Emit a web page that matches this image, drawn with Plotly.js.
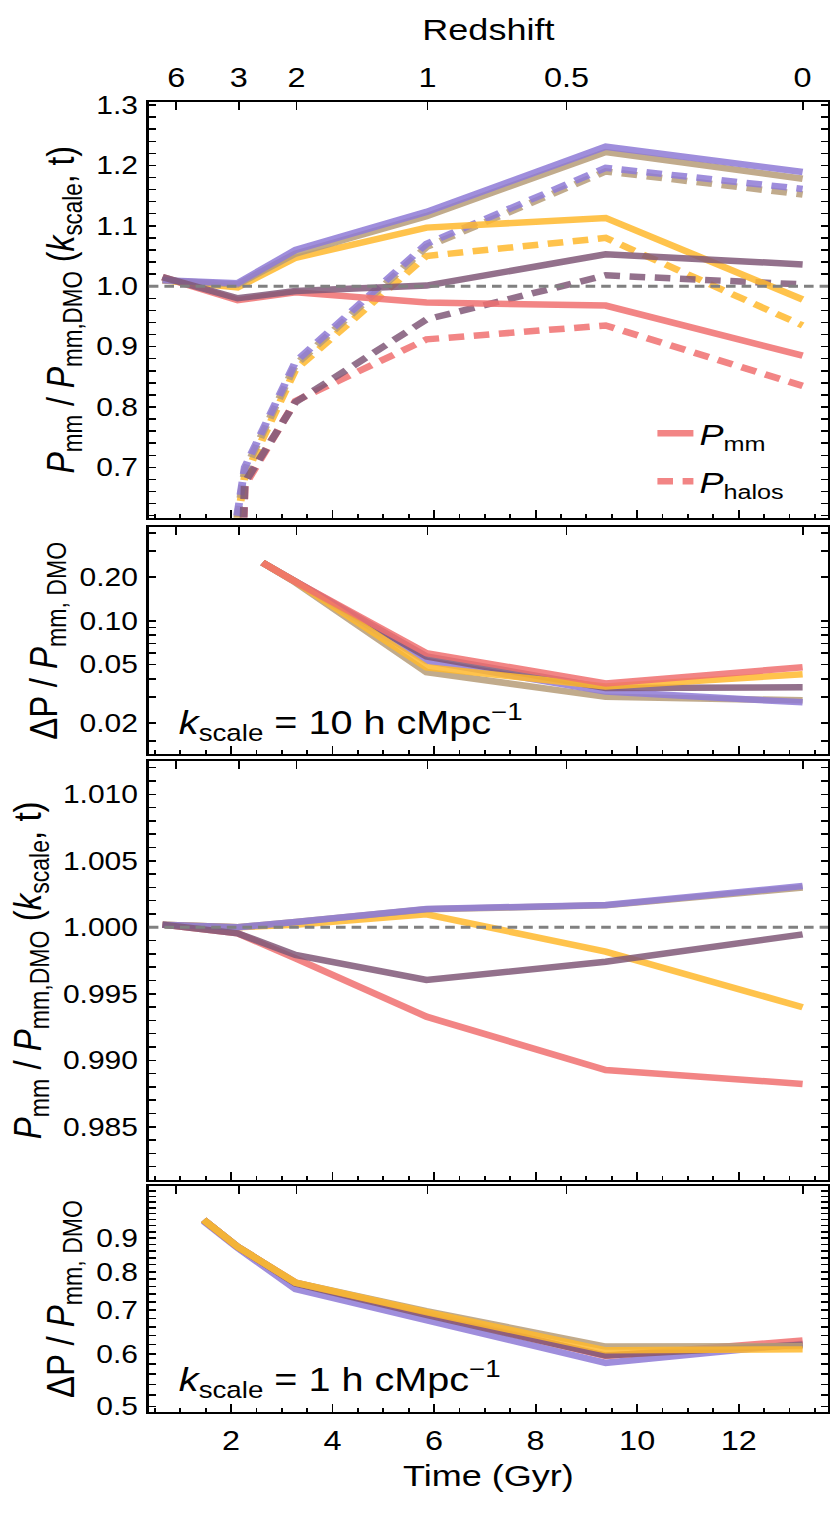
<!DOCTYPE html>
<html>
<head>
<meta charset="utf-8">
<script src="https://cdn.plot.ly/plotly-3.0.1.min.js"></script>
<style>
  body { margin: 0; background: white; }
  /* the reference is a bit wider than tall in its letters, so stretch the figure sideways */
  #plot { width: 692px; height: 1513px; transform: scaleX(1.2); transform-origin: 0 0; }
</style>
</head>
<body>
<div id="plot"></div>
<script>
// snapshot times (Gyr)
var tSnap = [0.65, 2.13, 3.27, 5.85, 9.38, 13.26];
var tHalo = [2.12, 2.27, 3.27, 5.85, 9.38, 13.26];
var tDiff10 = [2.62, 3.27, 5.85, 9.38, 13.26];
var tDiff1 = [1.46, 2.13, 3.27, 5.85, 9.38, 13.26];

// redshift labels for the top axis and the times they sit at
var zLabels = ["6", "3", "2", "1", "0.5", "0"];
var zTimes = [0.92, 2.15, 3.29, 5.87, 8.61, 13.26];

// panel 1: P_mm / P_mm,DMO at k = 10
var mm10Red    = [1.015, 0.977, 0.990, 0.973, 0.968, 0.885];
var mm10Yellow = [1.010, 0.998, 1.047, 1.097, 1.113, 0.978];
var mm10Tan    = [1.010, 1.003, 1.054, 1.116, 1.222, 1.178];
var mm10Purple = [1.010, 1.005, 1.060, 1.123, 1.231, 1.189];
var mm10Mauve  = [1.015, 0.980, 0.992, 1.001, 1.053, 1.036];

// panel 1: P_halos / P_mm,DMO at k = 10
var halo10Red    = [0.30, 0.670, 0.810, 0.912, 0.935, 0.835];
var halo10Yellow = [0.61, 0.685, 0.862, 1.050, 1.080, 0.935];
var halo10Tan    = [0.615, 0.695, 0.870, 1.065, 1.190, 1.152];
var halo10Purple = [0.62, 0.700, 0.875, 1.070, 1.196, 1.161];
var halo10Mauve  = [0.30, 0.675, 0.808, 0.945, 1.018, 1.003];

// panel 2: Delta P / P_mm,DMO at k = 10
var diff10Red    = [0.25, 0.185, 0.060, 0.0372, 0.048];
var diff10Yellow = [0.25, 0.185, 0.048, 0.0355, 0.043];
var diff10Tan    = [0.25, 0.183, 0.0445, 0.0301, 0.0285];
var diff10Purple = [0.25, 0.185, 0.053, 0.0327, 0.0276];
var diff10Mauve  = [0.25, 0.185, 0.057, 0.0346, 0.035];

// panel 3: P_mm / P_mm,DMO at k = 1
var mm1Red    = [1.0002, 0.99955, 0.99767, 0.99328, 0.98927, 0.98822];
var mm1Yellow = [1.0002, 1.0000, 1.0002, 1.00098, 0.99817, 0.99399];
var mm1Tan    = [1.0002, 1.0000, 1.0004, 1.00135, 1.00165, 1.0030];
var mm1Purple = [1.0002, 1.0000, 1.0004, 1.00138, 1.00168, 1.0031];
var mm1Mauve  = [1.0002, 0.99955, 0.99792, 0.99604, 0.99741, 0.99947];

// panel 4: Delta P / P_mm,DMO at k = 1
var diff1Red    = [0.959, 0.873, 0.770, 0.690, 0.596, 0.629];
var diff1Yellow = [0.959, 0.873, 0.770, 0.695, 0.608, 0.610];
var diff1Tan    = [0.959, 0.873, 0.770, 0.697, 0.616, 0.617];
var diff1Purple = [0.955, 0.870, 0.753, 0.676, 0.582, 0.622];
var diff1Mauve  = [0.959, 0.873, 0.768, 0.688, 0.597, 0.620];

var red = "rgb(240,112,112)";
var yellow = "rgb(255,184,45)";
var tan = "rgb(182,156,120)";
var purple = "rgb(142,122,214)";
var mauve = "rgb(128,88,120)";
var dashed = "13px,8px";

function line(x, y, color, xa, ya, dash) {
  return {
    x: x, y: y, type: "scatter", mode: "lines",
    xaxis: xa, yaxis: ya,
    line: {color: color, width: 6.5, dash: dash || "solid"},
    opacity: 0.85, showlegend: false, hoverinfo: "skip"
  };
}

// empty trace so an overlaying (top) axis gets drawn
function holder(xa, ya) {
  return {x: [null], y: [null], type: "scatter", mode: "lines", xaxis: xa, yaxis: ya,
          showlegend: false, hoverinfo: "skip"};
}

var data = [
  line(tHalo, halo10Red, red, "x", "y", dashed),
  line(tHalo, halo10Yellow, yellow, "x", "y", dashed),
  line(tHalo, halo10Tan, tan, "x", "y", dashed),
  line(tHalo, halo10Purple, purple, "x", "y", dashed),
  line(tHalo, halo10Mauve, mauve, "x", "y", dashed),
  line(tSnap, mm10Red, red, "x", "y"),
  line(tSnap, mm10Yellow, yellow, "x", "y"),
  line(tSnap, mm10Tan, tan, "x", "y"),
  line(tSnap, mm10Purple, purple, "x", "y"),
  line(tSnap, mm10Mauve, mauve, "x", "y"),

  line(tDiff10, diff10Tan, tan, "x2", "y2"),
  line(tDiff10, diff10Purple, purple, "x2", "y2"),
  line(tDiff10, diff10Mauve, mauve, "x2", "y2"),
  line(tDiff10, diff10Yellow, yellow, "x2", "y2"),
  line(tDiff10, diff10Red, red, "x2", "y2"),

  line(tSnap, mm1Red, red, "x3", "y3"),
  line(tSnap, mm1Yellow, yellow, "x3", "y3"),
  line(tSnap, mm1Tan, tan, "x3", "y3"),
  line(tSnap, mm1Purple, purple, "x3", "y3"),
  line(tSnap, mm1Mauve, mauve, "x3", "y3"),

  line(tDiff1, diff1Purple, purple, "x4", "y4"),
  line(tDiff1, diff1Red, red, "x4", "y4"),
  line(tDiff1, diff1Mauve, mauve, "x4", "y4"),
  line(tDiff1, diff1Tan, tan, "x4", "y4"),
  line(tDiff1, diff1Yellow, yellow, "x4", "y4"),

  holder("x5", "y"), holder("x6", "y2"), holder("x7", "y3"), holder("x8", "y4"),

  // legend entries
  {x: [null], y: [null], type: "scatter", mode: "lines", name: "<i>P</i><sub>mm</sub>",
   legendgroup: "a", line: {color: red, width: 6.5}, opacity: 0.85},
  {x: [null], y: [null], type: "scatter", mode: "lines", name: "<i>P</i><sub>halos</sub>",
   legendgroup: "b", line: {color: red, width: 6.5, dash: dashed}, opacity: 0.85}
];

var tRange = [0.38, 13.76];

function timeAxis(anchor, labels) {
  return {
    anchor: anchor, range: tRange, tickmode: "linear", tick0: 0, dtick: 2,
    ticks: "inside", ticklen: 8, tickwidth: 1.5, tickcolor: "black",
    minor: {dtick: 0.5, ticks: "inside", ticklen: 4, tickwidth: 1.5, tickcolor: "black"},
    showline: true, linewidth: 2, linecolor: "black",
    showgrid: false, zeroline: false,
    showticklabels: labels, tickfont: {size: 27}, ticklabelstandoff: 4
  };
}

function zAxis(over, anchor, labels) {
  return {
    overlaying: over, anchor: anchor, side: "top", range: tRange,
    tickmode: "array", tickvals: zTimes, ticktext: zLabels,
    ticks: "inside", ticklen: 8, tickwidth: 1.5, tickcolor: "black",
    showline: true, linewidth: 2, linecolor: "black",
    showgrid: false, zeroline: false,
    showticklabels: labels, tickfont: {size: 27}, ticklabelstandoff: 2
  };
}

function yBase(domain) {
  return {
    domain: domain, ticks: "inside", ticklen: 6, tickwidth: 1.5, tickcolor: "black",
    showline: true, linewidth: 2, linecolor: "black", mirror: "allticks",
    showgrid: false, zeroline: false, tickfont: {size: 25}, ticklabelstandoff: 2
  };
}

var minor10 = [0.015, 0.03, 0.04, 0.06, 0.07, 0.08, 0.09, 0.3, 0.4];
var minor1 = [];
for (var v = 0.52; v < 1.08; v += 0.02) {
  var r = Math.round(v * 100) / 100;
  if ([0.6, 0.7, 0.8, 0.9].indexOf(r) < 0) minor1.push(r);
}

var ratioTitle = "<i>P</i><sub>mm</sub> / <i>P</i><sub>mm,DMO</sub> (<i>k</i><sub>scale</sub>, t)";
var diffTitle = "ΔP / <i>P</i><sub>mm, DMO</sub>";

var y1 = yBase([0.6828, 1]);
y1.range = [0.617, 1.305];
y1.tickmode = "linear"; y1.tick0 = 0.7; y1.dtick = 0.1; y1.tickformat = ".1f";
y1.minor = {dtick: 0.02, ticks: "inside", ticklen: 3, tickwidth: 1.5, tickcolor: "black"};
y1.title = {text: ratioTitle, font: {size: 32}, standoff: 8};

var y2 = yBase([0.5021, 0.6753]);
y2.type = "log";
y2.range = [Math.log10(0.01217), Math.log10(0.4365)];
y2.tickmode = "array"; y2.tickvals = [0.02, 0.05, 0.1, 0.2]; y2.ticktext = ["0.02", "0.05", "0.10", "0.20"];
y2.minor = {tickmode: "array", tickvals: minor10, ticks: "inside", ticklen: 3, tickwidth: 1.5, tickcolor: "black"};
y2.title = {text: diffTitle, font: {size: 33}, standoff: 8};

var y3 = yBase([0.1771, 0.4972]);
y3.range = [0.9810, 1.01253];
y3.tickmode = "linear"; y3.tick0 = 0.985; y3.dtick = 0.005; y3.tickformat = ".3f";
y3.minor = {dtick: 0.001, ticks: "inside", ticklen: 3, tickwidth: 1.5, tickcolor: "black"};
y3.title = {text: ratioTitle, font: {size: 33}, standoff: 8};

var y4 = yBase([0, 0.1725]);
y4.type = "log";
y4.range = [-0.3097, 0.0332];
y4.tickmode = "array"; y4.tickvals = [0.5, 0.6, 0.7, 0.8, 0.9]; y4.ticktext = ["0.5", "0.6", "0.7", "0.8", "0.9"];
y4.minor = {tickmode: "array", tickvals: minor1, ticks: "inside", ticklen: 3, tickwidth: 1.5, tickcolor: "black"};
y4.title = {text: diffTitle, font: {size: 33}, standoff: 8};

var x4 = timeAxis("y4", true);
x4.title = {text: "Time (Gyr)", font: {size: 30}, standoff: 10};
var x5 = zAxis("x", "y", true);
x5.title = {text: "Redshift", font: {size: 30}, standoff: 14};

function unity(ya) {
  return {type: "line", xref: "paper", x0: 0, x1: 1, yref: ya, y0: 1, y1: 1,
          line: {color: "rgb(128,128,128)", width: 3, dash: "8px,5px"}, layer: "above"};
}

var layout = {
  width: 692, height: 1513,
  margin: {l: 124.4, r: 1.5, t: 102, b: 101},
  paper_bgcolor: "white", plot_bgcolor: "white",
  font: {family: "Liberation Sans, Arial, sans-serif", color: "black", size: 25},
  showlegend: true,
  legend: {x: 0.740, y: 0.767, xanchor: "left", yanchor: "top",
           bgcolor: "rgba(0,0,0,0)", font: {size: 30}, tracegroupgap: 6},
  xaxis: timeAxis("y", false),
  xaxis2: timeAxis("y2", false),
  xaxis3: timeAxis("y3", false),
  xaxis4: x4,
  xaxis5: x5,
  xaxis6: zAxis("x2", "y2", false),
  xaxis7: zAxis("x3", "y3", false),
  xaxis8: zAxis("x4", "y4", false),
  yaxis: y1, yaxis2: y2, yaxis3: y3, yaxis4: y4,
  shapes: [unity("y"), unity("y3")],
  annotations: [
    {xref: "paper", x: 0.041, xanchor: "left", yref: "y2 domain", y: 0.142, yanchor: "middle",
     text: "<i>k</i><sub>scale</sub> = 10 h cMpc<sup>−1</sup>", showarrow: false, font: {size: 33}},
    {xref: "paper", x: 0.041, xanchor: "left", yref: "y4 domain", y: 0.143, yanchor: "middle",
     text: "<i>k</i><sub>scale</sub> = 1 h cMpc<sup>−1</sup>", showarrow: false, font: {size: 33}}
  ],
  hovermode: false
};

Plotly.newPlot("plot", data, layout, {staticPlot: true, displayModeBar: false});
</script>
</body>
</html>
